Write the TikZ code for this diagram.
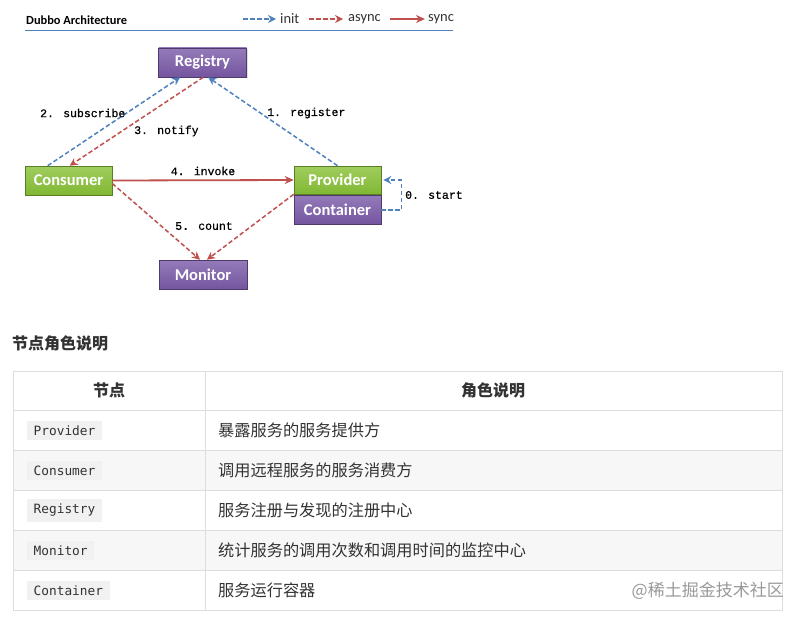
\documentclass[tikz,border=0pt]{standalone}
\usepackage{fontspec}
\setmainfont{Carlito}
\setmonofont{DejaVu Sans Mono}
\newfontfamily\cjkfont{Noto Sans CJK SC}
\newfontfamily\steplabelfont[FakeBold=0.6]{Liberation Mono}
\usetikzlibrary{calc,arrows.meta,positioning,shadows}

\definecolor{initblue}{HTML}{4F81BD}
\definecolor{asyncred}{HTML}{C0504D}
\definecolor{rolepurple}{HTML}{7A5AA8}
\definecolor{rolegreen}{HTML}{88C136}
\definecolor{gridgray}{HTML}{DDDDDD}
\definecolor{rowgray}{HTML}{F7F7F7}
\definecolor{codegray}{HTML}{F1F1F1}
\definecolor{inkgray}{HTML}{333333}

\tikzset{
  role/.style={minimum width=88pt, minimum height=29pt, inner sep=0pt,
    text=white, font=\fontsize{16.5}{16}\selectfont\bfseries,
    draw=#1!65!black, line width=0.6pt,
    top color=#1!80!white, bottom color=#1!95!black,
    drop shadow={opacity=0.25, shadow xshift=1.2pt, shadow yshift=-1.2pt}},
  initline/.style={initblue, line width=1.5pt, dash pattern=on 4.5pt off 2.5pt,
    -{Stealth[length=8pt,width=8pt]}},
  asyncline/.style={asyncred, line width=1.5pt, dash pattern=on 4.5pt off 2.5pt,
    -{Stealth[length=8pt,width=8pt]}},
  syncline/.style={asyncred, line width=1.8pt,
    -{Stealth[length=9pt,width=8pt]}},
  steplabel/.style={inner sep=0pt, text=black, font=\steplabelfont\fontsize{11.5}{12}\selectfont},
  legendtext/.style={inner sep=0pt, anchor=west, text=black!80, font=\fontsize{14.5}{14}\selectfont},
  cell/.style={inner sep=0pt, text=inkgray, font=\cjkfont\fontsize{16.2}{16}\selectfont},
  codecell/.style={fill=codegray, inner xsep=6.5pt, inner ysep=5pt, anchor=west,
    text=inkgray, font=\ttfamily\fontsize{12.8}{13}\selectfont},
}

\begin{document}
\begin{tikzpicture}[x=1pt, y=-1pt]
  \useasboundingbox[fill=white] (0,0) rectangle (802,618);

  % Header bar with title and legend
  \node[anchor=west, inner sep=0pt, font=\fontsize{12.4}{12}\selectfont\bfseries] (title) at (26,20) {Dubbo Architecture};
  \draw[initblue, line width=1pt] (25,31) -- (453,31);
  \coordinate (initA) at (243,19);  \coordinate (initB) at (276,19);
  \coordinate (asyncA) at (309,19); \coordinate (asyncB) at (343,19);
  \coordinate (syncA) at (390,19);  \coordinate (syncB) at (425,19);
  \draw[initline] (initA) -- (initB);
  \node[legendtext] (initlbl) at (280,19) {init};
  \draw[asyncline] (asyncA) -- (asyncB);
  \node[legendtext] (asynclbl) at (348,19) {async};
  \draw[syncline] (syncA) -- (syncB);
  \node[legendtext] (synclbl) at (428,19) {sync};

  % Roles
  \node[role=rolepurple] (registry) at (202.5,62.5) {Registry};
  \node[role=rolegreen, minimum width=87pt] (consumer) at (68.5,180.5) {Consumer};
  \node[role=rolegreen, minimum width=87pt, minimum height=28pt] (provider) at (337.5,180) {Provider};
  \node[role=rolepurple, minimum width=87pt] (container) at (337.5,209.5) {Container};
  \node[role=rolepurple] (monitor) at (203,274.5) {Monitor};

  % 0. start
  \coordinate (startbend) at ($(container.east)+(20,0.5)$);
  \draw[initline] ($(container.east)+(0,0.5)$) -- (startbend) |- ($(provider.east)+(2,0)$);
  \node[steplabel, anchor=west] (startlbl) at (405,195) {0. start};

  % 1. register
  \draw[initline] (provider.north) -- ($(registry.south west)+(50,0)$);
  \node[steplabel, anchor=west] (registerlbl) at (267,113) {1. register};

  % 2. subscribe / 3. notify
  \draw[initline] ($(consumer.north west)+(23,0)$) -- ($(registry.south west)+(22,0)$);
  \node[steplabel, anchor=west] (subscribelbl) at (40,113) {2. subscribe};
  \draw[asyncline] ($(registry.south west)+(45,0)$) -- ($(consumer.north west)+(45,0)$);
  \node[steplabel, anchor=west] (notifylbl) at (134,131) {3. notify};

  % 4. invoke
  \draw[syncline] (consumer.east) -- (provider.west);
  \node[steplabel] (invokelbl) at (203,171) {4. invoke};

  % 5. count
  \draw[asyncline] ($(consumer.east)+(0,3)$) -- ($(monitor.north)+(-3,0)$);
  \draw[asyncline] (provider.south west) -- ($(monitor.north)+(4,0)$);
  \node[steplabel] (countlbl) at (204,226) {5. count};

  % Role table
  \node[anchor=west, inner sep=0pt, text=inkgray, font=\cjkfont\fontsize{16}{16}\selectfont\bfseries] (tabletitle) at (12,343) {节点角色说明};
  \foreach \name/\desc/\shade [count=\i] in {
      Provider/暴露服务的服务提供方/white,
      Consumer/调用远程服务的服务消费方/rowgray,
      Registry/服务注册与发现的注册中心/white,
      Monitor/统计服务的调用次数和调用时间的监控中心/rowgray,
      Container/服务运行容器/white}{
    \pgfmathsetmacro{\rowtop}{410+40*(\i-1)}
    \fill[\shade] (13,\rowtop) rectangle (782,\rowtop+40);
    \node[codecell] (code\i) at (27,\rowtop+20.5) {\name};
    \node[cell, anchor=west] (desc\i) at (218,\rowtop+20) {\desc};
  }
  \draw[gridgray, line width=0.8pt] (13,371) rectangle (782,610);
  \draw[gridgray, line width=0.8pt] (205,371) -- (205,610);
  \foreach \y in {410,450,490,530,570}
    \draw[gridgray, line width=0.8pt] (13,\y) -- (782,\y);
  \node[cell, font=\cjkfont\fontsize{16}{16}\selectfont\bfseries] (headnode) at (109,390) {节点};
  \node[cell, font=\cjkfont\fontsize{16}{16}\selectfont\bfseries] (headrole) at (493,390) {角色说明};

  % watermark
  \node[anchor=east, inner sep=0pt, text=black!40, font=\cjkfont\fontsize{17}{17}\selectfont] (mark) at (784,591) {@稀土掘金技术社区};
\end{tikzpicture}
\end{document}
